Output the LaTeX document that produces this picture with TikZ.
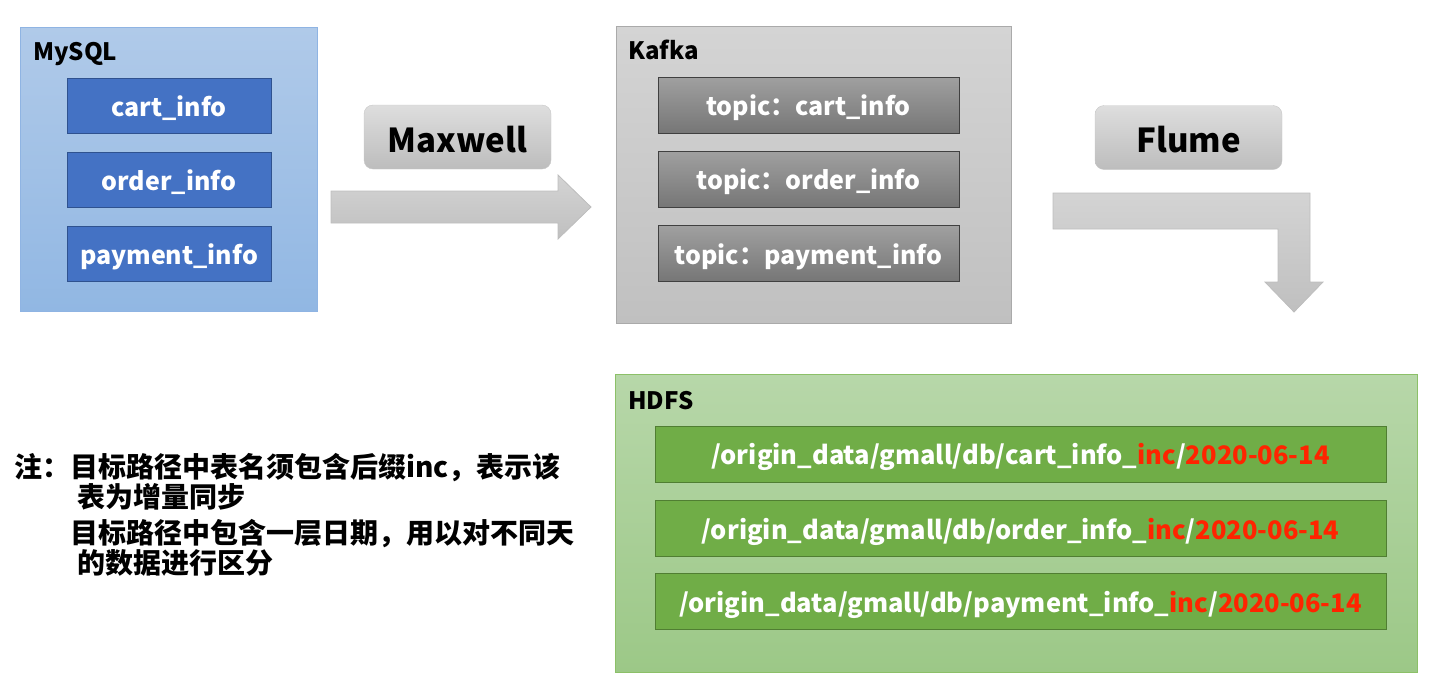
\documentclass[tikz,border=0pt]{standalone}
\usepackage{fontspec}
\setmainfont{Noto Sans CJK SC}
\usepackage{tikz}
\usetikzlibrary{calc,positioning}
\definecolor{mysqltop}{RGB}{176,202,233}
\definecolor{mysqlbot}{RGB}{145,183,227}
\definecolor{mysqlline}{RGB}{143,180,227}
\definecolor{tblue}{RGB}{68,114,196}
\definecolor{tblueline}{RGB}{47,82,143}
\definecolor{kafkatop}{RGB}{212,212,212}
\definecolor{kafkabot}{RGB}{192,192,192}
\definecolor{kafkaline}{RGB}{170,170,170}
\definecolor{topictop}{RGB}{160,160,160}
\definecolor{topicbot}{RGB}{118,118,118}
\definecolor{topicline}{RGB}{64,64,64}
\definecolor{hdfstop}{RGB}{183,215,169}
\definecolor{hdfsbot}{RGB}{156,200,135}
\definecolor{hdfsline}{RGB}{140,192,104}
\definecolor{pgreen}{RGB}{112,173,71}
\definecolor{pgreenline}{RGB}{80,126,50}
\definecolor{incred}{RGB}{255,36,0}
\tikzset{
big box/.style={draw=#1line, top color=#1top, bottom color=#1bot, line width=1pt},
table box/.style={draw=tblueline, fill=tblue, line width=1pt, text=white,
  minimum width=204pt, minimum height=55pt, text height=22pt, text depth=1pt,
  font=\fontsize{25}{30}\selectfont\bfseries},
topic box/.style={draw=topicline, top color=topictop, bottom color=topicbot, line width=1pt,
  text=white, minimum width=301pt, minimum height=56pt, text height=22pt, text depth=1pt,
  font=\fontsize{25}{30}\selectfont\bfseries},
path box/.style={draw=pgreenline, fill=pgreen, line width=1pt, text=white,
  minimum width=731pt, minimum height=56pt, text height=22pt, text depth=1pt,
  font=\fontsize{25.5}{30}\selectfont\bfseries},
tool box/.style={draw=black!22, top color=black!13, bottom color=black!26, rounded corners=9pt,
  minimum width=187pt, minimum height=64pt, text height=30pt, text depth=0pt,
  font=\fontsize{33}{38}\selectfont\bfseries},
flow arrow/.style={draw=black!26, top color=black!17, bottom color=black!25, line width=0.8pt},
box label/.style={anchor=base west, inner sep=0pt, font=\fontsize{24}{28}\selectfont\bfseries},
note line/.style={anchor=base west, inner sep=0pt, font=\fontsize{28}{32}\selectfont\bfseries},
}
\begin{document}
\begin{tikzpicture}[x=1pt,y=-1pt]
\useasboundingbox (0,0) rectangle (1434,678);
% sources and sinks
\node[big box=mysql, minimum width=297pt, minimum height=284pt] (mysql) at (168.5,169) {};
\node[big box=kafka, minimum width=395pt, minimum height=297pt] (kafka) at (813.5,174.5) {};
\node[big box=hdfs, minimum width=802pt, minimum height=298pt] (hdfs) at (1016,523) {};
\node[box label] (mysqllbl) at (33,60) {MySQL};
\node[box label] (kafkalbl) at (628,59) {Kafka};
\node[box label] (hdfslbl) at (628,409) {HDFS};
% tables
\node[table box] (cart) at (169,105.5) {cart\_info};
\node[table box] (order) at (169,179.5) {order\_info};
\node[table box] (payment) at (169,253.5) {payment\_info};
% topics
\node[topic box] (tcart) at (808.5,105) {topic：cart\_info};
\node[topic box] (torder) at (808.5,179) {topic：order\_info};
\node[topic box] (tpayment) at (808.5,253.5) {topic：payment\_info};
% hdfs paths
\node[path box] (pcart) at (1020.5,454) {/origin\_data/gmall/db/cart\_info\_\textcolor{incred}{inc}/\textcolor{incred}{2020-06-14}};
\node[path box] (porder) at (1020.5,528.5) {/origin\_data/gmall/db/order\_info\_\textcolor{incred}{inc}/\textcolor{incred}{2020-06-14}};
\node[path box] (ppayment) at (1020.5,601.5) {/origin\_data/gmall/db/payment\_info\_\textcolor{incred}{inc}/\textcolor{incred}{2020-06-14}};
% tools
\node[tool box] (maxwell) at (457.5,137) {Maxwell};
\node[tool box] (flume) at (1188.5,137.5) {Flume};
% arrows
\draw[flow arrow] (331,191) -- (558,191) -- (558,175) -- (591,207) -- (558,239)
  -- (558,223) -- (331,223) -- cycle;
\draw[flow arrow] (1053,193) -- (1310,193) -- (1310,282) -- (1323,282) -- (1294,312)
  -- (1265,282) -- (1278,282) -- (1278,229) -- (1053,229) -- cycle;
% note
\node[note line] (note1) at (14,477) {注：目标路径中表名须包含后缀inc，表示该};
\node[note line] (note2) at (77,507) {表为增量同步};
\node[note line] (note3) at (70,543) {目标路径中包含一层日期，用以对不同天};
\node[note line] (note4) at (77,573) {的数据进行区分};
\end{tikzpicture}
\end{document}
